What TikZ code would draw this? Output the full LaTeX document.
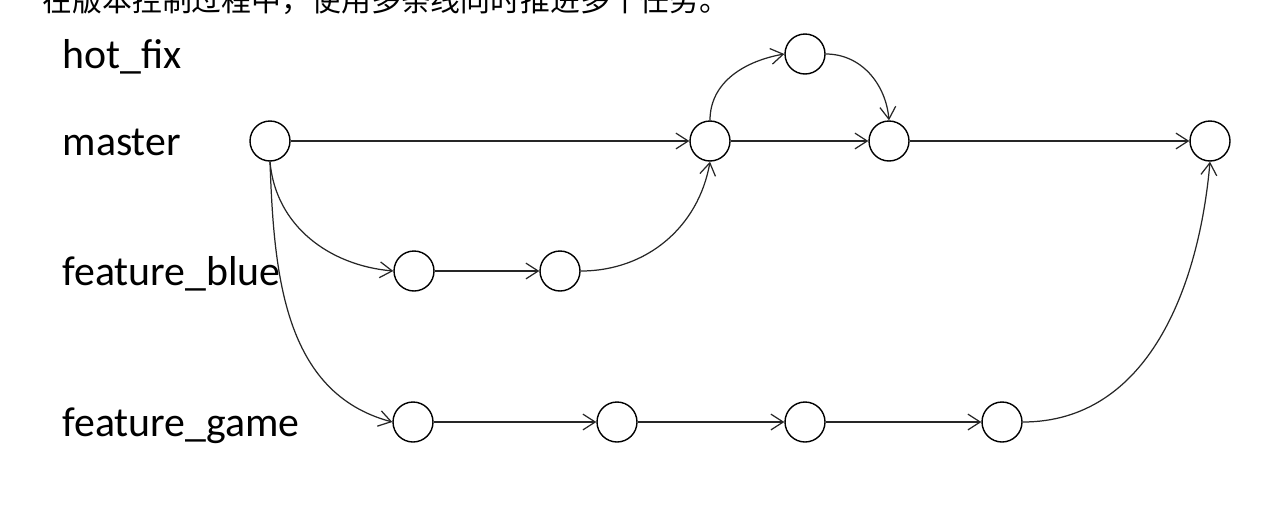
\documentclass[tikz,border=0pt]{standalone}
\usepackage{fontspec}
\setmainfont{Carlito}
\newfontfamily\cjk{Noto Sans CJK SC}
\usetikzlibrary{%
  arrows.meta,%
  positioning%
}

\begin{document}
\begin{tikzpicture}[
  x=0.02cm, y=0.02cm,
  line width=0.7pt, >={Straight Barb[length=7pt,width=9pt]}, draw=black,
  commit/.style={circle, inner sep=0pt, minimum size=0.8cm, draw=black, fill=white, line width=0.8pt},
  branch/.style={anchor=base west, inner sep=0pt, font=\fontsize{23.8}{26}\selectfont},
  flow/.style={->, draw=black!85}
]

\useasboundingbox (0,0) rectangle (1270,-508);
\begin{scope}
  \clip (0,0) rectangle (1270,-508);
  \node[anchor=base west, inner sep=0pt, font=\cjk\fontsize{17}{20}\selectfont] (title) at (42,-11) {在版本控制过程中，使用多条线同时推进多个任务。};
\end{scope}

\node[branch] (lhot) at (62,-68) {hot\_fix};
\node[branch] (lmaster) at (62,-155) {master};
\node[branch] (lblue) at (62,-285) {feature\_blue};
\node[branch] (lgame) at (62,-436) {feature\_game};

\node[commit] (m1) at (270,-141) {};
\node[commit] (m2) at (710,-141) {};
\node[commit] (m3) at (889,-141) {};
\node[commit] (m4) at (1210,-141) {};
\node[commit] (h1) at (805,-54) {};
\node[commit] (b1) at (414,-271) {};
\node[commit] (b2) at (560,-271) {};
\node[commit] (g1) at (413,-422) {};
\node[commit] (g2) at (617,-422) {};
\node[commit] (g3) at (805,-422) {};
\node[commit] (g4) at (1002,-422) {};

\draw[flow] (m1) -- (m2);
\draw[flow] (m2) -- (m3);
\draw[flow] (m3) -- (m4);
\draw[flow] (m2.north) to[out=90,in=190] (h1.west);
\draw[flow] (h1.east) to[out=0,in=95] (m3.north);

\draw[flow] (m1.south) to[out=-85,in=175] (b1.west);
\draw[flow] (b1) -- (b2);
\draw[flow] (b2.east) to[out=0,in=-100] (m2.south);

\draw[flow] (m1.south) to[out=-88,in=165] (g1.west);
\draw[flow] (g1) -- (g2);
\draw[flow] (g2) -- (g3);
\draw[flow] (g3) -- (g4);
\draw[flow] (g4.east) to[out=0,in=-95] (m4.south);

\end{tikzpicture}
\end{document}
